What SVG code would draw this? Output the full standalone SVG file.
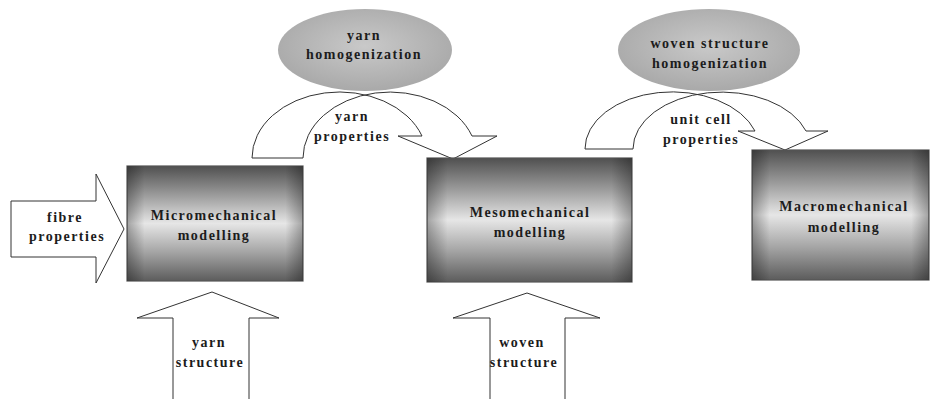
<svg xmlns="http://www.w3.org/2000/svg" width="931" height="399" viewBox="0 0 931 399">
<defs>
<linearGradient id="gv" x1="0" y1="0" x2="0" y2="1">
<stop offset="0" stop-color="#505050"/>
<stop offset="0.25" stop-color="#9a9a9a"/>
<stop offset="0.5" stop-color="#e6e6e6"/>
<stop offset="0.75" stop-color="#a4a4a4"/>
<stop offset="1" stop-color="#5c5c5c"/>
</linearGradient>
<linearGradient id="gh" x1="0" y1="0" x2="1" y2="0">
<stop offset="0" stop-color="#000" stop-opacity="0.3"/>
<stop offset="0.1" stop-color="#000" stop-opacity="0"/>
<stop offset="0.9" stop-color="#000" stop-opacity="0"/>
<stop offset="1" stop-color="#000" stop-opacity="0.3"/>
</linearGradient>
<radialGradient id="ge" cx="0.5" cy="0.45" r="0.55">
<stop offset="0" stop-color="#c9c9c9"/>
<stop offset="1" stop-color="#a9a9a9"/>
</radialGradient>
<style>
.box{stroke:#555;stroke-width:1.2}
.sh{fill:url(#gh)}
.arr{fill:#fff;stroke:#333;stroke-width:1}
.ell{fill:url(#ge);stroke:none}
text{font-family:"Liberation Serif","Times New Roman",serif;font-weight:bold;font-size:14px;fill:#1c1c1c;text-anchor:middle;letter-spacing:1.5px}
</style>
</defs>
<rect width="931" height="399" fill="#fff"/>

<g id="connectors">
<path id="c-fibre" class="arr" d="M11,201 L96,201 L96,174 L124,229 L96,283 L96,257 L11,257 Z"/>
<path id="c-yarnstruct" class="arr" d="M173,399 L173,318 L137,318 L212,292 L279,318 L249,318 L249,399"/>
<path id="c-wovenstruct" class="arr" d="M490,399 L490,318 L453,318 L527,293 L600,318 L565,318 L565,399"/>
<path id="c-yarnprop" class="arr" d="M252,158 A87.5,66 0 0 1 422,136 L398,136 L453,159 L497,136 L472,136 A87,66 0 0 0 303,158 Z"/>
<path id="c-unitprop" class="arr" d="M585,149 A87.2,57 0 0 1 755,131 L738,131 L785,150 L828,131 L806,131 A88.8,57 0 0 0 633,149 Z"/>
</g>

<g id="n-yarnhom">
<ellipse class="ell" cx="365" cy="50" rx="87" ry="41"/>
<text x="364" y="40">yarn</text>
<text x="364" y="59">homogenization</text>
</g>
<g id="n-wovenhom">
<ellipse class="ell" cx="709" cy="50" rx="91" ry="41"/>
<text x="710" y="48">woven structure</text>
<text x="710" y="68">homogenization</text>
</g>

<g id="n-micro">
<rect class="box" x="127" y="166" width="176" height="115" fill="url(#gv)"/>
<rect class="sh" x="127" y="166" width="176" height="115"/>
<text x="214" y="220">Micromechanical</text>
<text x="214" y="240">modelling</text>
</g>
<g id="n-meso">
<rect class="box" x="427" y="158" width="205" height="124" fill="url(#gv)"/>
<rect class="sh" x="427" y="158" width="205" height="124"/>
<text x="530" y="217">Mesomechanical</text>
<text x="530" y="237">modelling</text>
</g>
<g id="n-macro">
<rect class="box" x="752" y="150" width="177" height="130" fill="url(#gv)"/>
<rect class="sh" x="752" y="150" width="177" height="130"/>
<text x="844" y="211">Macromechanical</text>
<text x="844" y="232">modelling</text>
</g>

<g id="labels">
<text x="65" y="222">fibre</text>
<text x="67" y="241">properties</text>
<text x="209" y="347">yarn</text>
<text x="210" y="367">structure</text>
<text x="522" y="347">woven</text>
<text x="524" y="367">structure</text>
<text x="352" y="121">yarn</text>
<text x="352" y="141">properties</text>
<text x="701" y="124">unit cell</text>
<text x="701" y="144">properties</text>
</g>
</svg>
